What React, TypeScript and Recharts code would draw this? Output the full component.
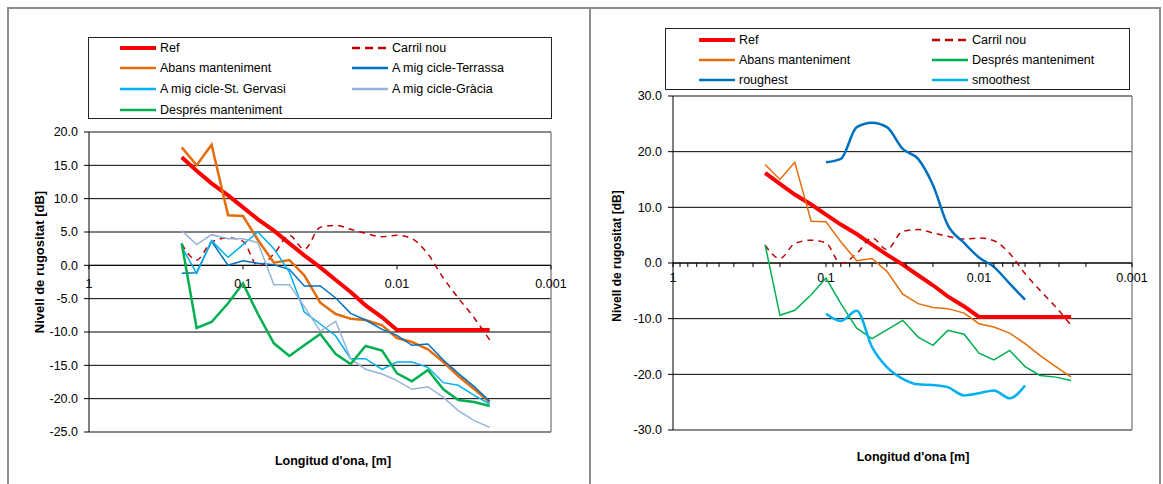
import React from 'react';
import {
  LineChart, Line, XAxis, YAxis, CartesianGrid, ReferenceLine, ReferenceDot,
} from 'recharts';

// 1/3-octave wavelengths [m]
const wavelength = [0.25, 0.2, 0.16, 0.125, 0.1, 0.08, 0.063, 0.05, 0.04, 0.0315, 0.025, 0.02, 0.016, 0.0125, 0.01, 0.008, 0.0063, 0.005, 0.004, 0.00315, 0.0025];

const ref = [16.2, 14.2, 12.3, 10.5, 8.7, 6.9, 5.2, 3.3, 1.5, -0.3, -2.2, -4.0, -6.0, -7.8, -9.7, -9.7, -9.7, -9.7, -9.7, -9.7, -9.7];
const carrilNou = [3.2, 0.8, 3.5, 4.1, 3.6, -0.1, 1.7, 4.5, 2.4, 5.7, 6.0, 5.4, 4.8, 4.3, 4.5, 4.0, 1.7, -1.9, -4.9, -7.9, -11.2];
const abans = [17.7, 15.0, 18.1, 7.5, 7.4, 3.8, 0.4, 0.8, -1.5, -5.6, -7.3, -8.0, -8.2, -9.0, -10.9, -11.5, -12.6, -14.5, -16.6, -18.6, -20.5];
const terrassa = [-1.2, -1.1, 3.6, 0.0, 0.7, 0.3, 0.1, -0.6, -3.1, -3.1, -4.9, -7.2, -8.2, -9.6, -10.5, -12.0, -11.8, -14.2, -16.2, -18.2, -20.4];
const stGervasi = [2.8, -1.2, 3.7, 1.2, 3.1, 5.0, 2.5, -1.0, -7.0, -8.8, -10.6, -14.0, -14.0, -15.6, -14.5, -14.5, -15.3, -17.6, -18.0, -19.5, -20.8];
const gracia = [5.2, 3.1, 4.6, 4.0, 4.0, 3.4, -2.9, -2.9, -6.2, -9.9, -8.4, -14.0, -15.6, -16.3, -17.3, -18.6, -18.2, -19.8, -21.8, -23.3, -24.3];
const despres = [3.3, -9.4, -8.5, -5.7, -2.7, -7.3, -11.7, -13.6, -12.0, -10.3, -13.3, -14.8, -12.1, -12.8, -16.2, -17.4, -15.7, -18.6, -20.2, -20.5, -21.1];
const roughest = [null, null, null, null, 18.1, 18.7, 24.4, 25.2, 24.4, 20.5, 18.7, 14.0, 6.8, 3.6, 1.0, -0.7, -3.7, -6.6, null, null, null];
const smoothest = [null, null, null, null, -9.1, -10.4, -8.6, -15.1, -18.7, -20.8, -21.8, -21.9, -22.3, -23.8, -23.4, -22.9, -24.3, -22.0, null, null, null];

const xMajorTicks = [1, 0.1, 0.01, 0.001];
const xTickLabels = ['1', '0.1', '0.01', '0.001'];
const xMinorTicks = [
  0.9, 0.8, 0.7, 0.6, 0.5, 0.4, 0.3, 0.2,
  0.09, 0.08, 0.07, 0.06, 0.05, 0.04, 0.03, 0.02,
  0.009, 0.008, 0.007, 0.006, 0.005, 0.004, 0.003, 0.002,
];
const leftYTicks = [20, 15, 10, 5, 0, -5, -10, -15, -20, -25];
const rightYTicks = [30, 20, 10, 0, -10, -20, -30];

const FONT = '"Liberation Sans", Arial, sans-serif';

type Series = {
  key: string;
  name: string;
  values: (number | null)[];
  color: string;
  width: number;
  dash?: string;
  curve?: 'linear' | 'monotone';
};

const leftSeries: Series[] = [
  { key: 'ref', name: 'Ref', values: ref, color: '#FF0000', width: 4 },
  { key: 'nou', name: 'Carril nou', values: carrilNou, color: '#C00000', width: 1.5, dash: '6 5', curve: 'monotone' },
  { key: 'abans', name: 'Abans manteniment', values: abans, color: '#E46C0A', width: 2.5 },
  { key: 'terrassa', name: 'A mig cicle-Terrassa', values: terrassa, color: '#0070C0', width: 1.5 },
  { key: 'gervasi', name: 'A mig cicle-St. Gervasi', values: stGervasi, color: '#00B0F0', width: 1.5 },
  { key: 'gracia', name: 'A mig cicle-Gràcia', values: gracia, color: '#95B3D7', width: 1.5 },
  { key: 'despres', name: 'Després manteniment', values: despres, color: '#00B050', width: 2.5 },
];

const rightSeries: Series[] = [
  { key: 'ref', name: 'Ref', values: ref, color: '#FF0000', width: 4 },
  { key: 'nou', name: 'Carril nou', values: carrilNou, color: '#C00000', width: 1.5, dash: '6 5', curve: 'monotone' },
  { key: 'abans', name: 'Abans manteniment', values: abans, color: '#E46C0A', width: 1.5 },
  { key: 'despres', name: 'Després manteniment', values: despres, color: '#00B050', width: 1.5 },
  { key: 'rough', name: 'roughest', values: roughest, color: '#0070C0', width: 2.5, curve: 'monotone' },
  { key: 'smooth', name: 'smoothest', values: smoothest, color: '#00B0F0', width: 2.5, curve: 'monotone' },
];

function buildRows(series: Series[]) {
  return wavelength.map((w, i) => {
    const row: Record<string, number | null> = { w };
    series.forEach((s) => { row[s.key] = s.values[i]; });
    return row;
  });
}

type PanelProps = {
  left: number;
  width: number;
  margin: { top: number; right: number; bottom: number; left: number };
  yDomain: [number, number];
  yTicks: number[];
  series: Series[];
  minor: boolean;
  labelOffset: number;
  legendBox: { left: number; top: number; width: number; height: number };
  legendCols: number[];
  legendRows: number[];
  xTitle: string;
  xTitlePos: [number, number];
  yTitlePos: [number, number];
  yTitleSize: number;
};

function Panel(p: PanelProps) {
  const data = buildRows(p.series);
  const tickShape = (len: number) => (props: any) => (
    <line x1={props.cx} y1={props.cy} x2={props.cx} y2={props.cy + len} stroke="#000" strokeWidth={1} />
  );
  return (
    <>
      <div style={{ position: 'absolute', left: p.left, top: 0 }}>
        <LineChart width={p.width} height={484} data={data} margin={p.margin}>
          <CartesianGrid horizontal vertical={false} stroke="#000" strokeWidth={1} />
          <XAxis
            dataKey="w" type="number" scale="log" domain={[0.001, 1]} reversed allowDataOverflow
            ticks={xMajorTicks} tick={false} tickLine={false} axisLine={false} height={40}
          />
          <YAxis
            type="number" domain={p.yDomain} ticks={p.yTicks} interval={0} width={60}
            tickFormatter={(v: number) => v.toFixed(1)}
            axisLine={{ stroke: '#000' }} tickLine={{ stroke: '#000' }} tickSize={5} tickMargin={6}
            tick={{ fill: '#000', fontSize: 12.5, fontFamily: FONT }}
          />
          <ReferenceLine y={p.yDomain[1]} stroke="#8c8c8c" strokeWidth={1.5} />
          <ReferenceLine y={p.yDomain[0]} stroke="#8c8c8c" strokeWidth={1.5} />
          <ReferenceLine x={0.001} stroke="#8c8c8c" strokeWidth={1.5} />
          <ReferenceLine y={0} stroke="#000" strokeWidth={1} />
          {p.minor && xMinorTicks.map((t) => (
            <ReferenceDot key={`m${t}`} x={t} y={0} r={0} shape={tickShape(4)} />
          ))}
          {xMajorTicks.map((t, i) => (
            <ReferenceDot
              key={`M${t}`} x={t} y={0} r={0} shape={tickShape(4)}
              label={{ value: xTickLabels[i], position: 'bottom', offset: p.labelOffset, fill: '#000', fontSize: 12.5, fontFamily: FONT }}
            />
          ))}
          {p.series.map((s) => (
            <Line
              key={s.key} dataKey={s.key} name={s.name} type={s.curve || 'linear'}
              stroke={s.color} strokeWidth={s.width} strokeDasharray={s.dash}
              dot={false} activeDot={false} isAnimationActive={false}
            />
          ))}
        </LineChart>
      </div>
      <div style={{
        position: 'absolute', left: p.legendBox.left, top: p.legendBox.top,
        width: p.legendBox.width, height: p.legendBox.height,
        border: '1.5px solid #222', boxSizing: 'border-box', background: 'transparent',
      }} />
      {p.series.map((s, i) => {
        const col = i % 2;
        const row = Math.floor(i / 2);
        return (
          <div key={s.key} style={{
            position: 'absolute', left: p.legendCols[col], top: p.legendRows[row] - 8,
            height: 16, display: 'flex', alignItems: 'center', fontFamily: FONT, fontSize: 12.5, color: '#000',
            whiteSpace: 'nowrap',
          }}>
            <svg width={38} height={16} style={{ marginRight: 3 }}>
              <line x1={1} y1={8} x2={37} y2={8} stroke={s.color}
                strokeWidth={Math.max(s.width, 2.5)} strokeDasharray={s.dash ? '8 5' : undefined} />
            </svg>
            <span>{s.name}</span>
          </div>
        );
      })}
      <div style={{
        position: 'absolute', left: p.xTitlePos[0], top: p.xTitlePos[1], transform: 'translate(-50%, -50%)',
        fontFamily: FONT, fontWeight: 'bold', fontSize: 12.5, whiteSpace: 'nowrap',
      }}>{p.xTitle}</div>
      <div style={{
        position: 'absolute', left: p.yTitlePos[0], top: p.yTitlePos[1],
        transform: 'translate(-50%, -50%) rotate(-90deg)',
        fontFamily: FONT, fontWeight: 'bold', fontSize: p.yTitleSize, whiteSpace: 'nowrap',
      }}>Nivell de rugositat [dB]</div>
    </>
  );
}

export default function App() {
  return (
    <div style={{ position: 'absolute', left: 0, top: 0, width: 1163, height: 484, overflow: 'hidden', background: '#fff' }}>
      <div style={{ position: 'absolute', left: 7, top: 7, width: 600, height: 500, border: '2px solid #8c8c8c', boxSizing: 'border-box' }} />
      <div style={{ position: 'absolute', left: 589, top: 7, width: 572, height: 500, borderLeft: '2px solid #8c8c8c', borderTop: '2px solid #8c8c8c', borderRight: '2px solid #8c8c8c', boxSizing: 'border-box', background: '#fff' }} />
      <Panel
        left={0} width={590}
        margin={{ top: 132, right: 39, bottom: 12, left: 29 }}
        yDomain={[-25, 20]} yTicks={leftYTicks}
        series={leftSeries} minor={false} labelOffset={14}
        legendBox={{ left: 88, top: 37, width: 464, height: 82 }}
        legendCols={[119, 351]} legendRows={[48, 68, 89, 110]}
        xTitle="Longitud d'ona, [m]" xTitlePos={[333, 461]}
        yTitlePos={[39, 262]} yTitleSize={13}
      />
      <Panel
        left={590} width={573}
        margin={{ top: 96, right: 31, bottom: 14, left: 23 }}
        yDomain={[-30, 30]} yTicks={rightYTicks}
        series={rightSeries} minor labelOffset={10}
        legendBox={{ left: 665, top: 28, width: 465, height: 62 }}
        legendCols={[698, 931]} legendRows={[40, 60, 80]}
        xTitle="Longitud d'ona [m]" xTitlePos={[913, 457]}
        yTitlePos={[617, 256]} yTitleSize={12}
      />
    </div>
  );
}
